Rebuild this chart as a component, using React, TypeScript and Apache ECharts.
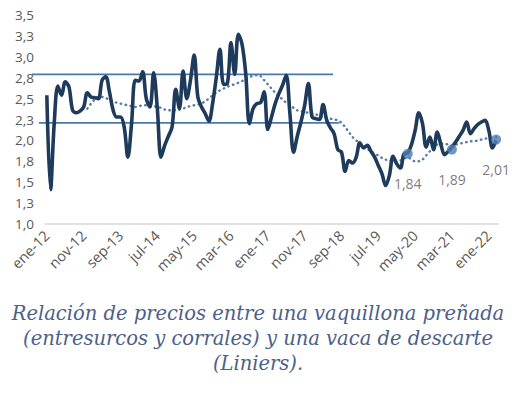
import React, { useEffect, useRef } from "react";
import * as echarts from "echarts";

const MONTHS = ["ene", "feb", "mar", "abr", "may", "jun", "jul", "ago", "sep", "oct", "nov", "dic"];
const START_YEAR = 2012;
const N_MONTHS = 123;
const categories: string[] = Array.from({ length: N_MONTHS }, (_, i) =>
  `${MONTHS[i % 12]}-${String((START_YEAR + Math.floor(i / 12)) % 100).padStart(2, "0")}`
);

// Relación de precios (monthly)
const ratio: number[] = [
  2.54, 1.41, 2.20, 2.65, 2.54, 2.70, 2.64, 2.36, 2.33, 2.35,
  2.40, 2.57, 2.52, 2.51, 2.50, 2.72, 2.76, 2.58, 2.36, 2.28,
  2.28, 2.16, 1.80, 2.20, 2.72, 2.71, 2.82, 2.50, 2.40, 2.81,
  2.38, 1.80, 1.94, 2.05, 2.16, 2.61, 2.38, 2.83, 2.50, 2.72,
  3.02, 2.52, 2.40, 2.32, 2.23, 2.44, 2.75, 3.09, 2.67, 2.68,
  3.17, 2.79, 3.27, 3.15, 2.80, 2.20, 2.38, 2.44, 2.45, 2.58,
  2.13, 2.28, 2.44, 2.56, 2.66, 2.78, 2.32, 1.86, 2.05, 2.22,
  2.42, 2.68, 2.28, 2.26, 2.25, 2.43, 2.24, 2.15, 2.08, 1.89,
  1.86, 1.63, 1.76, 1.73, 1.80, 1.97, 1.91, 1.94, 1.87, 1.80,
  1.70, 1.60, 1.46, 1.58, 1.81, 1.72, 1.67, 1.84, 1.85, 1.95,
  2.12, 2.33, 2.20, 1.92, 2.04, 1.89, 2.10, 1.95, 1.83, 1.87,
  1.92, 1.98, 2.05, 2.12, 2.22, 2.08, 2.14, 2.19, 2.22, 2.24,
  2.12, 1.91, 2.00,
];

// 12-month moving average trend, starting at index 11
const trend: (number | null)[] = [
  null, null, null, null, null, null, null, null, null, null, null,
  2.38, 2.44, 2.49, 2.52, 2.52, 2.51, 2.48, 2.47, 2.45, 2.44,
  2.43, 2.42, 2.41, 2.40, 2.41, 2.42, 2.42, 2.42, 2.41, 2.40,
  2.39, 2.37, 2.36, 2.36, 2.36, 2.37, 2.38, 2.40, 2.41, 2.42,
  2.43, 2.44, 2.47, 2.50, 2.54, 2.57, 2.60, 2.62, 2.64, 2.66,
  2.67, 2.69, 2.71, 2.73, 2.76, 2.77, 2.78, 2.77, 2.72, 2.67,
  2.62, 2.57, 2.53, 2.49, 2.45, 2.42, 2.39, 2.36, 2.35, 2.34,
  2.33, 2.32, 2.31, 2.30, 2.28, 2.27, 2.26, 2.25, 2.24, 2.21,
  2.16, 2.10, 2.04, 2.00, 1.97, 1.93, 1.90, 1.87, 1.84, 1.82,
  1.79, 1.77, 1.76, 1.75, 1.75, 1.76, 1.78, 1.80, 1.77, 1.75,
  1.75, 1.77, 1.82, 1.87, 1.92, 1.95, 1.96, 1.96, 1.95, 1.94,
  1.95, 1.96, 1.97, 1.98, 1.99, 1.99, 2.00, 2.01, 2.02, 2.03,
  2.03, 2.04,
];

// Highlighted points (March of each year)
const highlightIdx: number[] = [98, 110, 122];
const highlightVal: number[] = [1.84, 1.89, 2.01];

// Reference lines
const refValues: number[] = [2.79, 2.21];
const refEndIdx: number[] = [77.7, 79.4];

const CAPTION_LINES: string[] = [
  "Relación de precios entre una vaquillona preñada",
  "(entresurcos y corrales) y una vaca de descarte",
  "(Liniers).",
];

const fmt = (v: number) => v.toFixed(1).replace(".", ",");
const fmt2 = (v: number) => v.toFixed(2).replace(".", ",");

export default function App() {
  const ref = useRef<HTMLDivElement>(null);
  useEffect(() => {
    if (!ref.current) return;
    const chart = echarts.init(ref.current, undefined, { renderer: "svg" });
    chart.setOption({
      animation: false,
      grid: { left: 45, right: 18, top: 15, bottom: 173 },
      xAxis: {
        type: "category",
        data: categories,
        boundaryGap: true,
        axisLine: { lineStyle: { color: "#d9d9d9", width: 1.5 } },
        axisTick: { show: false },
        axisLabel: {
          interval: 9,
          rotate: 45,
          color: "#595959",
          fontSize: 14.5,
          fontFamily: "Open Sans",
          margin: 9,
        },
      },
      yAxis: {
        type: "value",
        min: 1,
        max: 3.5,
        interval: 0.25,
        splitLine: { show: false },
        axisLine: { show: false },
        axisTick: { show: false },
        axisLabel: {
          color: "#595959",
          fontSize: 13.5,
          fontFamily: "Open Sans",
          margin: 11,
          formatter: (v: number) => fmt(v),
        },
      },
      series: [
        {
          type: "line",
          data: trend,
          smooth: 0.3,
          symbol: "none",
          lineStyle: { color: "#567ca9", width: 2.4, type: [0.5, 4.5], cap: "round" },
          z: 2,
        },
        {
          type: "line",
          data: ratio,
          smooth: 0.35,
          symbol: "none",
          lineStyle: { color: "#1f3b5c", width: 3.6 },
          z: 3,
        },
        {
          type: "scatter",
          data: highlightIdx.map((idx, k) => [idx, highlightVal[k]]),
          symbol: "circle",
          symbolSize: 10,
          itemStyle: { color: "#4f7cb5" },
          label: {
            show: true,
            position: "bottom",
            distance: 18,
            color: "#595959",
            fontSize: 14,
            fontFamily: "Open Sans",
            formatter: (p: any) => fmt2(p.value[1]),
          },
          z: 4,
        },
      ],
    });

    const leftStarts = [32, 39];
    const x0 = chart.convertToPixel({ xAxisIndex: 0 }, 0) as number;
    const x1 = chart.convertToPixel({ xAxisIndex: 0 }, 1) as number;
    const step = x1 - x0;
    chart.setOption({
      graphic: [
        ...refValues.map((v, k) => {
          const y = chart.convertToPixel({ yAxisIndex: 0 }, v) as number;
          const xe = x0 + step * refEndIdx[k];
          return {
            type: "line",
            shape: { x1: leftStarts[k], y1: y, x2: xe, y2: y },
            style: { stroke: "#4a78ad", lineWidth: 1.6 },
            z: 1,
          };
        }),
        ...CAPTION_LINES.map((t, k) => ({
          type: "text",
          x: 258,
          y: 313 + k * 25,
          style: {
            text: t,
            align: "center",
            verticalAlign: "middle",
            fill: "#4d6089",
            font: "italic 19.5px 'DejaVu Serif'",
          },
        })),
      ],
    });
    return () => chart.dispose();
  }, []);
  return (
    <div
      ref={ref}
      style={{ position: "fixed", left: 0, top: 0, width: 516, height: 397, background: "#fff" }}
    />
  );
}
